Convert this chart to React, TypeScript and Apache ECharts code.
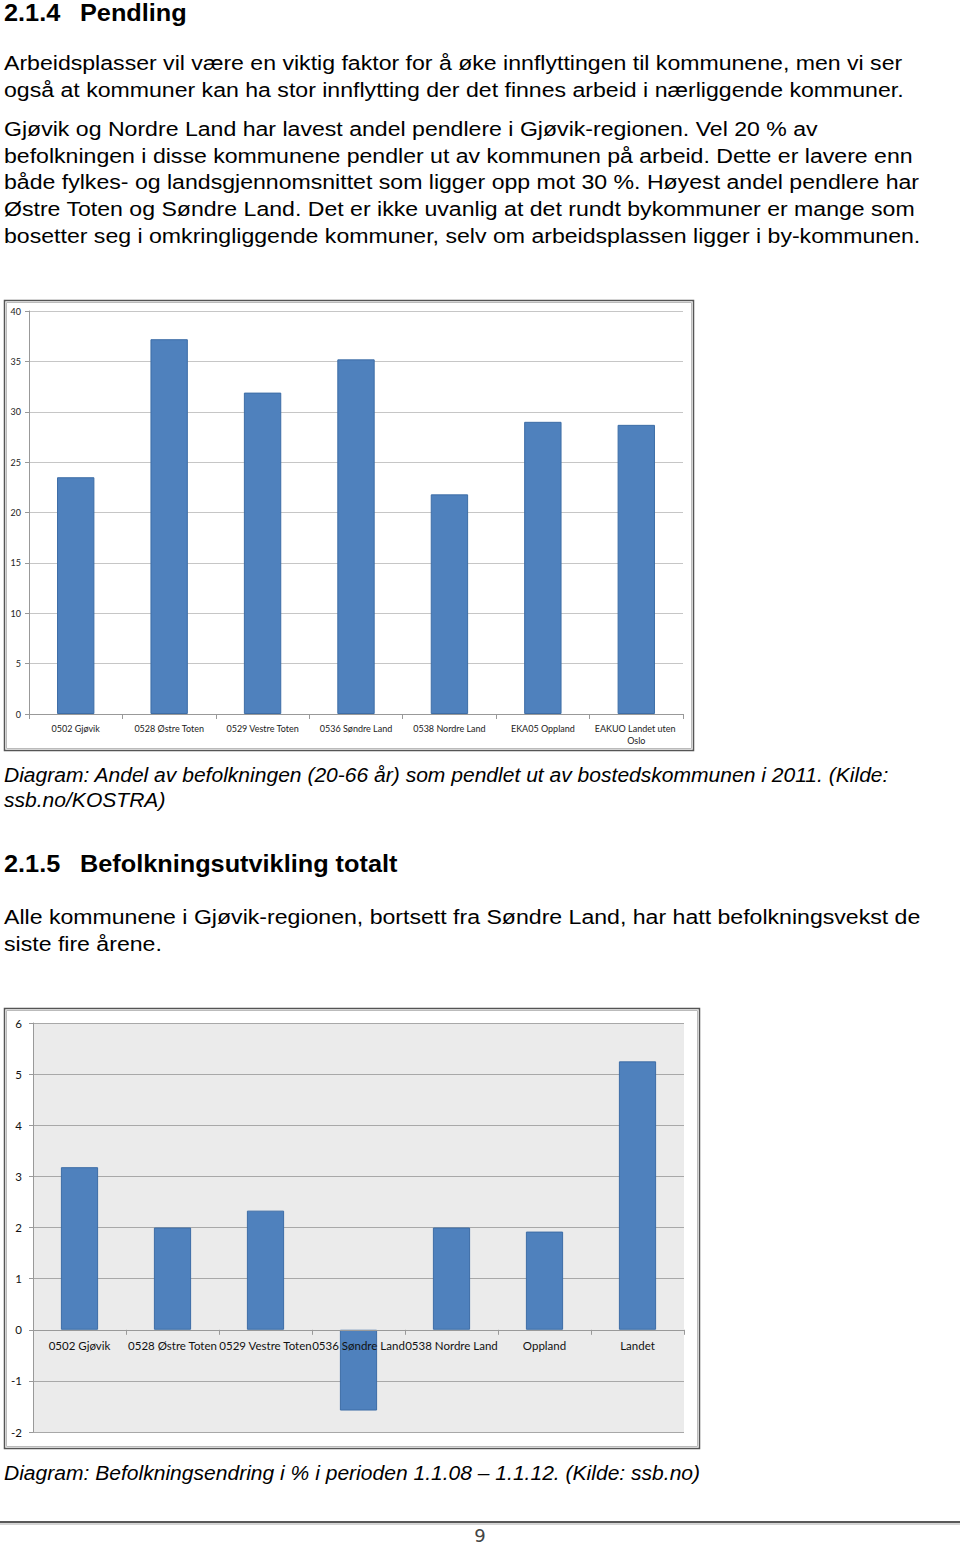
import React, { useEffect, useRef } from "react";
import * as echarts from "echarts";

const heading1Num = "2.1.4";
const heading1Text = "Pendling";
const para1Lines = [
  "Arbeidsplasser vil være en viktig faktor for å øke innflyttingen til kommunene, men vi ser",
  "også at kommuner kan ha stor innflytting der det finnes arbeid i nærliggende kommuner.",
];
const para2Lines = [
  "Gjøvik og Nordre Land har lavest andel pendlere i Gjøvik-regionen. Vel 20 % av",
  "befolkningen i disse kommunene pendler ut av kommunen på arbeid. Dette er lavere enn",
  "både fylkes- og landsgjennomsnittet som ligger opp mot 30 %. Høyest andel pendlere har",
  "Østre Toten og Søndre Land. Det er ikke uvanlig at det rundt bykommuner er mange som",
  "bosetter seg i omkringliggende kommuner, selv om arbeidsplassen ligger i by-kommunen.",
];
const caption1Lines = [
  "Diagram: Andel av befolkningen (20-66 år) som pendlet ut av bostedskommunen i 2011. (Kilde:",
  "ssb.no/KOSTRA)",
];
const heading2Num = "2.1.5";
const heading2Text = "Befolkningsutvikling totalt";
const para3Lines = [
  "Alle kommunene i Gjøvik-regionen, bortsett fra Søndre Land, har hatt befolkningsvekst de",
  "siste fire årene.",
];
const caption2 = "Diagram: Befolkningsendring i % i perioden 1.1.08 – 1.1.12. (Kilde: ssb.no)";
const pageNumber = "9";

const categories1 = [
  "0502 Gjøvik",
  "0528 Østre Toten",
  "0529 Vestre Toten",
  "0536 Søndre Land",
  "0538 Nordre Land",
  "EKA05 Oppland",
  "EAKUO Landet uten Oslo",
];
const values1 = [23.5, 37.2, 31.9, 35.2, 21.8, 29.0, 28.7];

const categories2 = [
  "0502 Gjøvik",
  "0528 Østre Toten",
  "0529 Vestre Toten",
  "0536 Søndre Land",
  "0538 Nordre Land",
  "Oppland",
  "Landet",
];
const values2 = [3.18, 2.0, 2.33, -1.58, 2.0, 1.92, 5.25];

const BODY_FONT = '"Liberation Sans", Arial, sans-serif';
const CHART_FONT = 'Lato, "Open Sans", sans-serif';

function txt(x: number, y: number, text: string, opts: any = {}) {
  const fontSize = opts.fontSize ?? 21;
  const fontWeight = opts.fontWeight ?? "normal";
  const fontStyle = opts.fontStyle ?? "normal";
  const family = opts.fontFamily ?? BODY_FONT;
  const align = opts.align ?? "left";
  return {
    type: "text",
    x,
    y,
    z: 100,
    scaleX: opts.scaleX ?? 1,
    style: {
      text,
      font: `${fontStyle} ${fontWeight} ${fontSize}px ${family}`,
      fill: opts.fill ?? "#000",
      align,
      verticalAlign: "middle",
      textAlign: align,
      textVerticalAlign: "middle",
    },
  };
}

export default function App() {
  const ref = useRef<HTMLDivElement>(null);
  useEffect(() => {
    document.body.style.margin = "0";
    if (!ref.current) return;
    const chart = echarts.init(ref.current, undefined, { renderer: "svg" });

    const BODY = { fontSize: 21, scaleX: 1.1 };
    const HEAD = { fontSize: 23, fontWeight: "bold", scaleX: 1.1 };
    const CAP = { fontStyle: "italic", fontSize: 19.5, scaleX: 1.08 };

    const graphics: any[] = [];
    graphics.push(txt(4, 12.5, heading1Num, HEAD));
    graphics.push(txt(80, 12.5, heading1Text, HEAD));
    const p1Y = [63, 90];
    para1Lines.forEach((l, i) => graphics.push(txt(4, p1Y[i], l, BODY)));
    const p2Y = [129, 156, 182, 209, 236];
    para2Lines.forEach((l, i) => graphics.push(txt(4, p2Y[i], l, BODY)));
    const c1Y = [775, 800];
    caption1Lines.forEach((l, i) => graphics.push(txt(4, c1Y[i], l, CAP)));
    graphics.push(txt(4, 864, heading2Num, HEAD));
    graphics.push(txt(80, 864, heading2Text, HEAD));
    const p3Y = [917, 944];
    para3Lines.forEach((l, i) => graphics.push(txt(4, p3Y[i], l, BODY)));
    graphics.push(txt(4, 1473, caption2, CAP));
    graphics.push(
      txt(480, 1535, pageNumber, {
        fontSize: 18,
        align: "center",
        fill: "#444",
        fontFamily: '"DejaVu Sans", sans-serif',
      })
    );

    // frames
    graphics.push({
      type: "rect",
      z: 1,
      shape: { x: 4.5, y: 300.5, width: 689, height: 450 },
      style: { fill: "none", stroke: "#555", lineWidth: 1.5 },
    });
    graphics.push({
      type: "rect",
      z: 1,
      shape: { x: 6.5, y: 302.5, width: 685, height: 446 },
      style: { fill: "none", stroke: "#bbb", lineWidth: 1 },
    });
    graphics.push({
      type: "rect",
      z: 1,
      shape: { x: 4.5, y: 1008.5, width: 695, height: 440 },
      style: { fill: "none", stroke: "#555", lineWidth: 1.5 },
    });
    graphics.push({
      type: "rect",
      z: 1,
      shape: { x: 6.5, y: 1010.5, width: 691, height: 436 },
      style: { fill: "none", stroke: "#bbb", lineWidth: 1 },
    });
    // page rule
    graphics.push({
      type: "line",
      z: 1,
      shape: { x1: 0, y1: 1522, x2: 960, y2: 1522 },
      style: { stroke: "#222", lineWidth: 1.5 },
    });
    graphics.push({
      type: "line",
      z: 1,
      shape: { x1: 0, y1: 1524, x2: 960, y2: 1524 },
      style: { stroke: "#aaa", lineWidth: 1 },
    });

    const barStyle = { color: "#4f81bd", borderColor: "#3d6da6", borderWidth: 1 };

    chart.setOption({
      animation: false,
      backgroundColor: "#fff",
      textStyle: { fontFamily: CHART_FONT },
      grid: [
        { left: 29, right: 277, top: 311, bottom: 831, containLabel: false },
        {
          left: 33,
          right: 276,
          top: 1023,
          bottom: 113,
          containLabel: false,
          show: true,
          backgroundColor: "#ebebeb",
          borderWidth: 0,
        },
      ],
      xAxis: [
        {
          type: "category",
          gridIndex: 0,
          data: categories1,
          axisLine: { lineStyle: { color: "#999", width: 1 } },
          axisTick: { show: true, length: 5, lineStyle: { color: "#999" } },
          axisLabel: {
            interval: 0,
            fontSize: 9,
            color: "#222",
            margin: 8,
            width: 88,
            overflow: "break",
            lineHeight: 12,
            fontFamily: CHART_FONT,
          },
        },
        {
          type: "category",
          gridIndex: 1,
          data: categories2,
          z: 10,
          position: "bottom",
          offset: -102.2,
          axisLine: { onZero: false, lineStyle: { color: "#999", width: 1 } },
          axisTick: { show: true, length: 5, lineStyle: { color: "#999" } },
          axisLabel: {
            interval: 0,
            fontSize: 11.5,
            color: "#111",
            margin: 10,
            fontFamily: CHART_FONT,
          },
        },
      ],
      yAxis: [
        {
          type: "value",
          gridIndex: 0,
          min: 0,
          max: 40,
          interval: 5,
          axisLine: { show: true, lineStyle: { color: "#999" } },
          axisTick: { show: true, length: 4, lineStyle: { color: "#999" } },
          splitLine: { lineStyle: { color: "#c6c6c6", width: 1 } },
          axisLabel: { fontSize: 9, color: "#222", margin: 8, fontFamily: CHART_FONT },
        },
        {
          type: "value",
          gridIndex: 1,
          min: -2,
          max: 6,
          interval: 1,
          axisLine: { show: true, lineStyle: { color: "#999" } },
          axisTick: { show: true, length: 4, lineStyle: { color: "#999" } },
          splitLine: { lineStyle: { color: "#a8a8a8", width: 1 } },
          axisLabel: { fontSize: 11.5, color: "#111", margin: 11, fontFamily: CHART_FONT },
        },
      ],
      series: [
        {
          type: "bar",
          xAxisIndex: 0,
          yAxisIndex: 0,
          data: values1,
          barWidth: "40%",
          itemStyle: barStyle,
        },
        {
          type: "bar",
          xAxisIndex: 1,
          yAxisIndex: 1,
          data: values2,
          barWidth: "40%",
          itemStyle: barStyle,
        },
      ],
      graphic: { elements: graphics },
    });
    return () => chart.dispose();
  }, []);
  return (
    <div
      ref={ref}
      style={{ position: "absolute", left: 0, top: 0, width: 960, height: 1545 }}
    />
  );
}
